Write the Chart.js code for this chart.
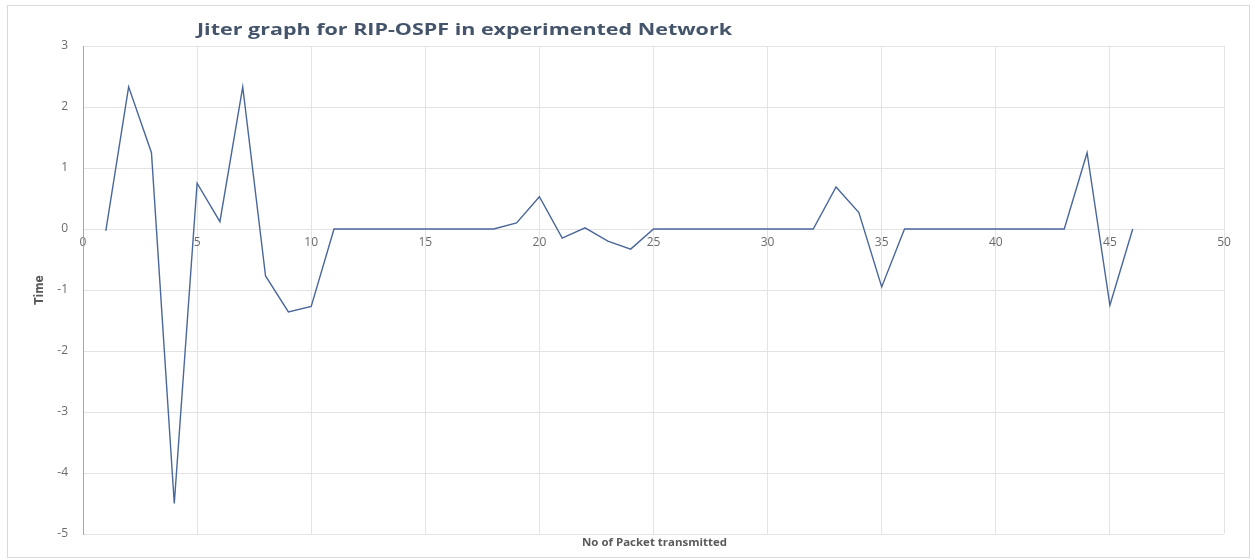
<!DOCTYPE html>
<html>
<head>
<meta charset="utf-8">
<title>Jiter graph for RIP-OSPF in experimented Network</title>
<script src="https://cdn.jsdelivr.net/npm/chart.js@4.4.1/dist/chart.umd.min.js"></script>
<style>
  html, body { margin: 0; padding: 0; background: #ffffff; }
  #wrap { position: relative; width: 1255px; height: 560px; }
  canvas { display: block; }
</style>
</head>
<body>
<div id="wrap"><canvas id="chart" width="1255" height="560"></canvas></div>
<script>
// Packet sequence numbers (x) and measured jitter (y)
const packets = [
  1, 2, 3, 4, 5, 6, 7, 8, 9, 10,
  11, 12, 13, 14, 15, 16, 17, 18, 19, 20,
  21, 22, 23, 24, 25, 26, 27, 28, 29, 30,
  31, 32, 33, 34, 35, 36, 37, 38, 39, 40,
  41, 42, 43, 44, 45, 46
];
const jitter = [
  -0.03, 2.33, 1.25, -4.5, 0.75, 0.12, 2.33, -0.77, -1.36, -1.27,
  0, 0, 0, 0, 0, 0, 0, 0, 0.1, 0.53,
  -0.15, 0.02, -0.2, -0.33, 0, 0, 0, 0, 0, 0,
  0, 0, 0.69, 0.27, -0.95, 0, 0, 0, 0, 0,
  0, 0, 0, 1.25, -1.25, 0
];

// Axis ranges and tick steps
const xTicks = [0, 5, 10, 15, 20, 25, 30, 35, 40, 45, 50];
const yTicks = [3, 2, 1, 0, -1, -2, -3, -4, -5];

const chartTitle = 'Jiter graph for RIP-OSPF in experimented Network';
const xTitle = 'No of Packet transmitted';
const yTitle = 'Time';

const points = packets.map((p, i) => ({ x: p, y: jitter[i] }));

const GRID = '#e3e3e3';
const TICK = '#6b6b6b';

// Draws text centred at (cx, cy), stretched horizontally to the given width
function stretchedText(ctx, text, cx, cy, width) {
  const w = ctx.measureText(text).width;
  ctx.save();
  ctx.translate(cx, cy);
  ctx.scale(width / w, 1);
  ctx.fillText(text, 0, 0);
  ctx.restore();
}

// Frame, chart title and axis titles
const decorations = {
  id: 'decorations',
  beforeDraw(chart) {
    const ctx = chart.ctx;
    ctx.save();
    ctx.fillStyle = '#ffffff';
    ctx.fillRect(0, 0, chart.width, chart.height);
    ctx.strokeStyle = '#d9d9d9';
    ctx.lineWidth = 1;
    ctx.strokeRect(7.5, 5.5, 1242, 552);
    ctx.restore();
  },
  afterDraw(chart) {
    const ctx = chart.ctx;
    const area = chart.chartArea;
    ctx.save();
    ctx.textAlign = 'center';
    ctx.textBaseline = 'middle';
    // main title
    ctx.fillStyle = '#44546a';
    ctx.font = 'bold 16px "Open Sans", "Liberation Sans", sans-serif';
    stretchedText(ctx, chartTitle, 464.5, 30, 535);
    // x axis title
    ctx.fillStyle = '#595959';
    ctx.font = 'bold 11px "Open Sans", "Liberation Sans", sans-serif';
    stretchedText(ctx, xTitle, 654.5, 543, 145);
    // y axis title
    ctx.translate(40, (area.top + area.bottom) / 2);
    ctx.rotate(-Math.PI / 2);
    ctx.font = 'bold 12px "Liberation Sans Narrow", "DejaVu Sans Condensed", sans-serif';
    ctx.fillText(yTitle, 0, 0);
    ctx.restore();
  }
};

new Chart(document.getElementById('chart'), {
  type: 'line',
  data: {
    datasets: [{
      label: 'Jitter',
      data: points,
      borderColor: '#4a679a',
      borderWidth: 1.4,
      pointRadius: 0,
      tension: 0,
      fill: false
    }]
  },
  options: {
    responsive: false,
    animation: false,
    layout: { padding: { left: 0, top: 46, right: 31, bottom: 26 } },
    plugins: {
      legend: { display: false },
      title: { display: false },
      tooltip: { enabled: false }
    },
    scales: {
      x: {
        type: 'linear',
        position: { y: 0 },
        min: xTicks[0],
        max: xTicks[xTicks.length - 1],
        afterBuildTicks(scale) { scale.ticks = xTicks.map(v => ({ value: v })); },
        grid: { color: GRID, lineWidth: 1, drawTicks: false },
        border: { display: false },
        ticks: {
          color: TICK,
          padding: 6,
          maxRotation: 0,
          font: { family: '"Open Sans", "Liberation Sans", sans-serif', size: 12 }
        }
      },
      y: {
        type: 'linear',
        min: yTicks[yTicks.length - 1],
        max: yTicks[0],
        afterBuildTicks(scale) { scale.ticks = yTicks.slice().reverse().map(v => ({ value: v })); },
        afterFit(scale) { scale.width = 83; },
        grid: { color: GRID, lineWidth: 1, drawTicks: false },
        border: { display: true, color: '#a6a6a6', width: 1 },
        ticks: {
          color: TICK,
          padding: 15,
          font: { family: '"Open Sans", "Liberation Sans", sans-serif', size: 12 }
        }
      }
    }
  },
  plugins: [decorations]
});
</script>
</body>
</html>
